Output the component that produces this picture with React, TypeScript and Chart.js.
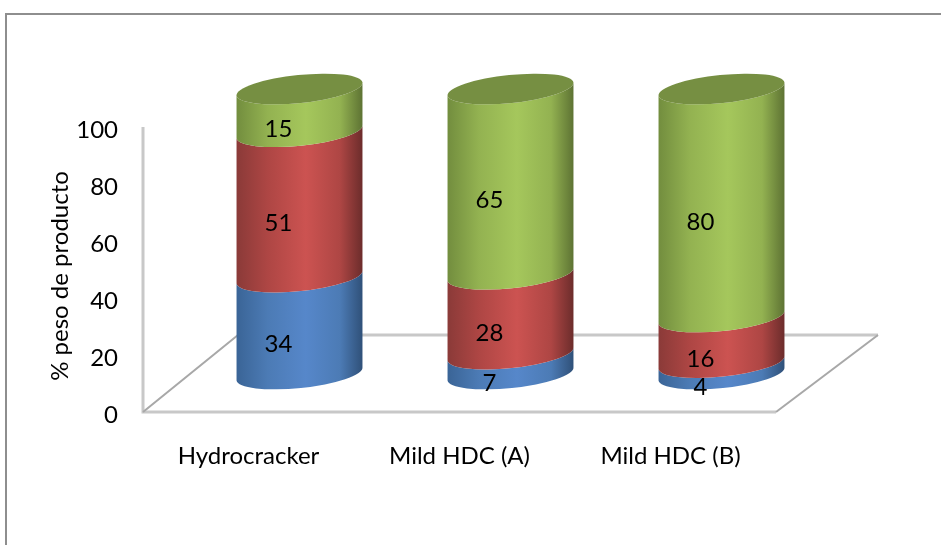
import React, { useEffect, useRef } from "react";
import { Chart, registerables } from "chart.js";

Chart.register(...registerables);

const categories = ["Hydrocracker", "Mild HDC (A)", "Mild HDC (B)"];
const seriesBlue = [34, 7, 4];
const seriesRed = [51, 28, 16];
const seriesGreen = [15, 65, 80];
const yTitle = "% peso de producto";

const FONT = "Lato";
const DX = 51;
const DY = -38;
const RY = 14;
const TILT = (-5.9 * Math.PI) / 180;

const shades = [
  { l: "#3a6496", m: "#4c7bb5", c: "#5687ca", r: "#2f5078" },
  { l: "#8a3a38", m: "#ae4644", c: "#cc5351", r: "#6b2c2b" },
  { l: "#728d3e", m: "#93b251", c: "#a5c75c", r: "#5d7233" },
];
const capColor = "#768f42";

const cylinderPlugin = {
  id: "cylinder",
  beforeDraw(chart: any) {
    const { ctx, width, height } = chart;
    ctx.save();
    ctx.fillStyle = "#ffffff";
    ctx.fillRect(0, 0, width, height);
    ctx.strokeStyle = "#8e8e8e";
    ctx.lineWidth = 2;
    ctx.beginPath();
    ctx.moveTo(6, height + 5);
    ctx.lineTo(6, 14);
    ctx.lineTo(width + 5, 14);
    ctx.stroke();
    ctx.restore();
  },
  beforeDatasetsDraw(chart: any) {
    const { ctx, chartArea: a } = chart;
    const depthX = 95;
    const depthY = -77;
    ctx.save();
    ctx.strokeStyle = "#c8c8c8";
    ctx.lineWidth = 3;
    ctx.beginPath();
    ctx.moveTo(a.left, a.top);
    ctx.lineTo(a.left, a.bottom);
    ctx.lineTo(a.right, a.bottom);
    ctx.stroke();
    ctx.beginPath();
    ctx.moveTo(a.left + depthX, a.bottom + depthY);
    ctx.lineTo(a.right + depthX + 7, a.bottom + depthY);
    ctx.stroke();
    ctx.strokeStyle = "#a8a8a8";
    ctx.lineWidth = 2;
    ctx.beginPath();
    ctx.moveTo(a.left, a.bottom);
    ctx.lineTo(a.left + depthX, a.bottom + depthY);
    ctx.moveTo(a.right, a.bottom);
    ctx.lineTo(a.right + depthX + 7, a.bottom + depthY);
    ctx.stroke();
    ctx.restore();
  },
  afterDatasetsDraw(chart: any) {
    const { ctx } = chart;
    const metas = chart.getSortedVisibleDatasetMetas();
    ctx.save();
    metas.forEach((meta: any, si: number) => {
      meta.data.forEach((bar: any) => {
        const cx = bar.x + DX;
        const rx = bar.width / 2;
        const yBase = bar.base + DY;
        const yTop = bar.y + DY;
        const g = ctx.createLinearGradient(cx - rx, 0, cx + rx, 0);
        const s = shades[si];
        g.addColorStop(0, s.l);
        g.addColorStop(0.25, s.m);
        g.addColorStop(0.55, s.c);
        g.addColorStop(0.82, s.m);
        g.addColorStop(1, s.r);
        ctx.fillStyle = g;
        ctx.beginPath();
        ctx.ellipse(cx, yBase, rx, RY, TILT, 0, Math.PI, false);
        ctx.ellipse(cx, yTop, rx, RY, TILT, Math.PI, 0, true);
        ctx.closePath();
        ctx.fill();
        if (si === metas.length - 1) {
          ctx.fillStyle = capColor;
          ctx.beginPath();
          ctx.ellipse(cx, yTop, rx, RY, TILT, 0, Math.PI * 2);
          ctx.fill();
        }
      });
    });
    ctx.fillStyle = "#000000";
    ctx.font = `24px ${FONT}`;
    ctx.textAlign = "center";
    ctx.textBaseline = "middle";
    metas.forEach((meta: any) => {
      const values = chart.data.datasets[meta.index].data;
      meta.data.forEach((bar: any, i: number) => {
        ctx.fillText(String(values[i]), bar.x + 30, (bar.y + bar.base) / 2 - 19);
      });
    });
    ctx.translate(60, 276);
    ctx.rotate(-Math.PI / 2);
    ctx.fillText(yTitle, 0, 0);
    ctx.restore();
  },
};

export default function App() {
  const ref = useRef<HTMLCanvasElement>(null);
  useEffect(() => {
    document.body.style.margin = "0";
    const chart = new Chart(ref.current as HTMLCanvasElement, {
      type: "bar",
      data: {
        labels: categories,
        datasets: [
          { data: seriesBlue, backgroundColor: "transparent", barPercentage: 0.6, categoryPercentage: 1 },
          { data: seriesRed, backgroundColor: "transparent", barPercentage: 0.6, categoryPercentage: 1 },
          { data: seriesGreen, backgroundColor: "transparent", barPercentage: 0.6, categoryPercentage: 1 },
        ],
      },
      options: {
        responsive: false,
        animation: false,
        devicePixelRatio: 1,
        layout: { padding: { left: 0, top: 127, right: 165, bottom: 0 } },
        plugins: { legend: { display: false }, tooltip: { enabled: false } },
        scales: {
          x: {
            stacked: true,
            grid: { display: false, drawTicks: false },
            border: { display: false },
            ticks: { color: "#000", font: { family: FONT, size: 24 }, padding: 30, maxRotation: 0 },
            afterFit: (s: any) => { s.height = 133; },
          },
          y: {
            stacked: true,
            min: 0,
            max: 100,
            grid: { display: false, drawTicks: false },
            border: { display: false },
            ticks: { color: "#000", stepSize: 20, font: { family: FONT, size: 24 }, padding: 25, labelOffset: 3 },
            afterFit: (s: any) => { s.width = 143; },
          },
        },
      } as any,
      plugins: [cylinderPlugin],
    });
    return () => chart.destroy();
  }, []);
  return <canvas ref={ref} width={941} height={545} style={{ display: "block" }} />;
}
